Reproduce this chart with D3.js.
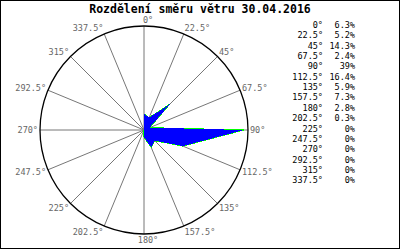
<!DOCTYPE html>
<html>
<head>
<meta charset="utf-8">
<script src="https://cdn.jsdelivr.net/npm/d3@7"></script>
<style>
  body { margin: 0; background: #fff; }
  text { font-family: "DejaVu Sans Mono", monospace; }
</style>
</head>
<body>
<div id="plotDiv"></div>
<script>
var title = "Rozdělení směru větru 30.04.2016";
var directions = [0, 22.5, 45, 67.5, 90, 112.5, 135, 157.5, 180, 202.5, 225, 247.5, 270, 292.5, 315, 337.5];
var dirLabels = ["0°", "22.5°", "45°", "67.5°", "90°", "112.5°", "135°", "157.5°", "180°", "202.5°", "225°", "247.5°", "270°", "292.5°", "315°", "337.5°"];
var shares = [6.3, 5.2, 14.3, 2.4, 39, 16.4, 5.9, 7.3, 2.8, 0.3, 0, 0, 0, 0, 0, 0];

window.addEventListener("load", makeRose)

function makeRose() {
    var width = 400, height = 250;
    var cx = 144, cy = 130, radius = 104;

    var svg = d3.select('#plotDiv')
        .append('svg')
        .attr('width', width)
        .attr('height', height);

    // frame
    svg.append('rect')
        .attr('x', 0.5).attr('y', 0.5)
        .attr('width', 399).attr('height', 248)
        .attr('fill', 'none')
        .attr('stroke', '#000');

    svg.append('text')
        .attr('x', 200).attr('y', 13)
        .attr('text-anchor', 'middle')
        .style('font-size', '11.5px')
        .style('font-weight', 'bold')
        .text(title);

    var rScale = d3.scaleLinear()
        .domain([0, d3.max(shares) * 1.04])
        .range([0, radius]);

    var angle = d3.scaleLinear()
        .domain([0, 360])
        .range([0, 2 * Math.PI]);

    var rose = svg.append('g')
        .attr('transform', 'translate(' + cx + ',' + cy + ')');

    // spokes
    rose.selectAll('.spoke')
        .data(directions)
        .enter()
        .append('line')
          .attr('class', 'spoke')
          .attr('x1', 0).attr('y1', 0)
          .attr('x2', function(d) { return radius * Math.sin(angle(d)); })
          .attr('y2', function(d) { return -radius * Math.cos(angle(d)); })
          .attr('stroke', '#777')
          .attr('stroke-width', 1);

    var pts = directions.map(function(d, i) { return [angle(d), rScale(shares[i])]; });

    var line = d3.lineRadial()
        .angle(function(d) { return d[0]; })
        .radius(function(d) { return d[1]; })
        .curve(d3.curveLinearClosed);

    rose.append('path')
        .attr('d', line(pts))
        .attr('fill', 'none')
        .attr('stroke', '#00ff00')
        .attr('stroke-width', 1)
        .attr('shape-rendering', 'crispEdges');

    rose.append('path')
        .attr('d', line(pts))
        .attr('fill', '#0000ff')
        .attr('stroke', 'none')
        .attr('shape-rendering', 'crispEdges');

    rose.append('circle')
        .attr('r', radius)
        .attr('fill', 'none')
        .attr('stroke', '#000')
        .attr('stroke-width', 1.3);

    // direction labels round the circle
    rose.selectAll('.dirLab')
        .data(directions)
        .enter()
        .append('text')
          .attr('class', 'dirLab')
          .attr('x', function(d) {
              var s = Math.sin(angle(d));
              var x = (radius + 2) * s;
              if (Math.abs(s) < 0.01) x += 4;
              return x;
          })
          .attr('y', function(d) {
              var c = Math.cos(angle(d));
              return -(radius + 2) * c - 4 * c + 3;
          })
          .attr('text-anchor', function(d) {
              var s = Math.sin(angle(d));
              return s > 0.01 ? 'start' : (s < -0.01 ? 'end' : 'middle');
          })
          .attr('fill', '#666')
          .style('font-size', '8.5px')
          .text(function(d, i) { return dirLabels[i]; });

    // legend table
    var legend = svg.append('g');
    var rowY = function(i) { return 28 + i * 10.35; };

    legend.selectAll('.legDir')
        .data(dirLabels)
        .enter()
        .append('text')
          .attr('x', 323).attr('y', function(d, i) { return rowY(i); })
          .attr('text-anchor', 'end')
          .style('font-size', '8.5px')
          .text(function(d) { return d; });

    legend.selectAll('.legVal')
        .data(shares)
        .enter()
        .append('text')
          .attr('x', 355).attr('y', function(d, i) { return rowY(i); })
          .attr('text-anchor', 'end')
          .style('font-size', '8.5px')
          .text(function(d) { return (+d.toFixed(1)) + '%'; });
}
</script>
</body>
</html>
